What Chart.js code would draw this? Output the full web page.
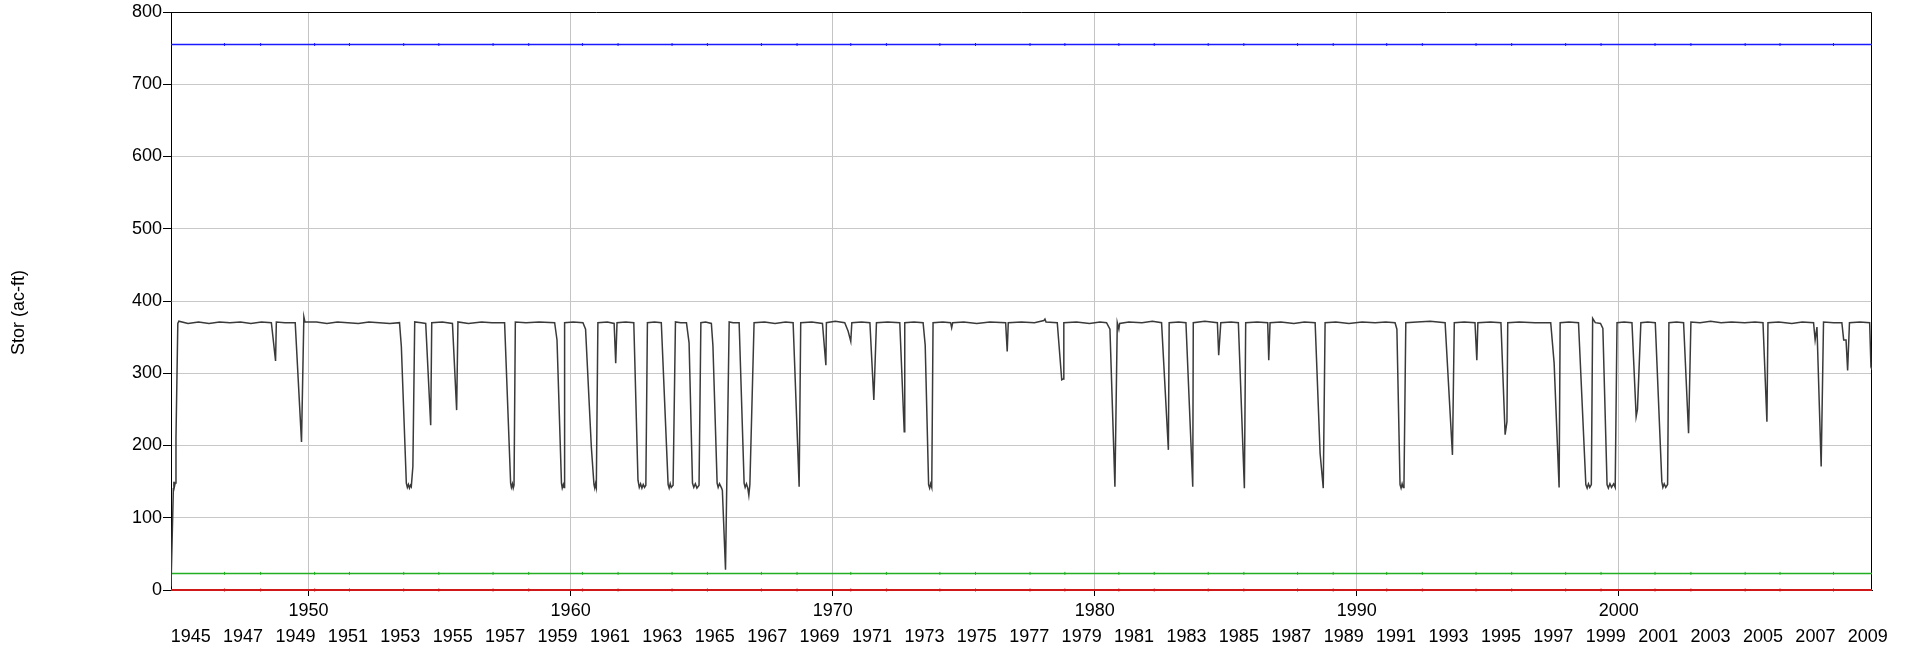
<!DOCTYPE html>
<html>
<head>
<meta charset="utf-8">
<title>Stor (ac-ft)</title>
<script src="https://cdn.jsdelivr.net/npm/chart.js@4.4.1/dist/chart.umd.min.js"></script>
<style>
    html, body { margin: 0; padding: 0; background: #fff; }
    #wrap { position: relative; width: 1912px; height: 647px; }
</style>
</head>
<body>
<div id="wrap"><canvas id="chart"></canvas></div>
<script>
// Storage trace (decimal year, ac-ft)
const storYear = [
    1944.75, 1944.84, 1944.86, 1944.88, 1944.91, 1944.94, 1945.01, 1945.05,
    1945.4, 1945.8, 1946.2, 1946.6, 1947.0, 1947.4, 1947.8, 1948.2,
    1948.58, 1948.74, 1948.77, 1949.1, 1949.49, 1949.73, 1949.82, 1949.86,
    1950.3, 1950.7, 1951.1, 1951.5, 1951.9, 1952.3, 1952.7, 1953.1,
    1953.47, 1953.54, 1953.73, 1953.77, 1953.81, 1953.85, 1953.89, 1953.92, 1953.98, 1954.05,
    1954.3, 1954.47, 1954.66, 1954.70, 1955.1, 1955.49, 1955.65, 1955.70,
    1956.1, 1956.6, 1957.0,
    1957.48, 1957.71, 1957.74, 1957.78, 1957.81, 1957.84, 1957.89, 1958.3, 1958.8,
    1959.39, 1959.48, 1959.65, 1959.68, 1959.72, 1959.75, 1959.77, 1960.1,
    1960.47, 1960.57, 1960.79, 1960.89, 1960.92, 1960.95, 1960.98, 1961.04, 1961.4,
    1961.66, 1961.72, 1961.77, 1962.1,
    1962.41, 1962.57, 1962.62, 1962.67, 1962.72, 1962.77, 1962.82, 1962.87, 1962.93, 1963.2,
    1963.46, 1963.72, 1963.76, 1963.8, 1963.84, 1963.91, 1964.0, 1964.2,
    1964.42, 1964.52, 1964.65, 1964.7, 1964.76, 1964.82, 1964.9, 1964.97, 1965.15,
    1965.37, 1965.43, 1965.59, 1965.63, 1965.68, 1965.76, 1965.79, 1965.91, 1966.05, 1966.2,
    1966.43, 1966.62, 1966.66, 1966.71, 1966.76, 1966.8, 1966.84, 1967.0,
    1967.4, 1967.8, 1968.2, 1968.49, 1968.72, 1968.78, 1969.2,
    1969.61, 1969.74, 1969.76, 1970.1, 1970.46, 1970.59, 1970.69, 1970.73, 1971.1,
    1971.42, 1971.57, 1971.67, 1972.1, 1972.56, 1972.73, 1972.75, 1973.1,
    1973.45, 1973.53, 1973.66, 1973.7, 1973.74, 1973.78, 1973.83, 1974.2,
    1974.5, 1974.54, 1974.58, 1975.0, 1975.5, 1976.0,
    1976.6, 1976.66, 1976.7, 1977.2, 1977.7, 1978.06, 1978.1, 1978.14,
    1978.57, 1978.74, 1978.79, 1978.82, 1979.3, 1979.8, 1980.2,
    1980.45, 1980.58, 1980.77, 1980.86, 1980.92, 1980.95, 1981.3, 1981.8, 1982.2,
    1982.55, 1982.81, 1982.84, 1983.2, 1983.48, 1983.74, 1983.76, 1984.2,
    1984.68, 1984.73, 1984.81, 1985.2, 1985.48, 1985.71, 1985.76, 1986.2,
    1986.6, 1986.64, 1986.69, 1987.1, 1987.6, 1988.0,
    1988.41, 1988.6, 1988.72, 1988.79, 1989.2, 1989.7, 1990.2, 1990.7, 1991.1,
    1991.46, 1991.53, 1991.65, 1991.69, 1991.73, 1991.77, 1991.8, 1991.87, 1992.3, 1992.8,
    1993.37, 1993.65, 1993.72, 1994.1, 1994.51, 1994.58, 1994.62, 1995.1,
    1995.5, 1995.66, 1995.73, 1995.76, 1996.2, 1996.8,
    1997.4, 1997.53, 1997.72, 1997.76, 1998.1,
    1998.46, 1998.74, 1998.79, 1998.84, 1998.89, 1998.95, 1999.0, 1999.1, 1999.3, 1999.39,
    1999.55, 1999.6, 1999.66, 1999.72, 1999.8, 1999.86, 1999.93, 2000.2,
    2000.5, 2000.66, 2000.71, 2000.84, 2001.1,
    2001.39, 2001.64, 2001.68, 2001.73, 2001.79, 2001.86, 2001.91, 2002.2,
    2002.47, 2002.66, 2002.75, 2003.1, 2003.5, 2003.9, 2004.3, 2004.8, 2005.2,
    2005.5, 2005.65, 2005.69, 2006.1, 2006.6, 2007.0,
    2007.43, 2007.49, 2007.56, 2007.72, 2007.81, 2008.2,
    2008.51, 2008.58, 2008.67, 2008.73, 2008.8, 2009.2, 2009.57, 2009.62, 2009.66
];
const storAcFt = [
    5, 140, 150, 143, 148, 210, 369, 372,
    369, 371, 369, 371, 370, 371, 369, 371,
    370, 317, 371, 370, 370, 205, 378, 371,
    371, 369, 371, 370, 369, 371, 370, 369,
    370, 337, 148, 142, 146, 141, 145, 143, 171, 371,
    370, 369, 228, 370, 371, 369, 249, 371,
    369, 371, 370,
    370, 148, 142, 147, 141, 145, 371, 370, 371,
    370, 346, 148, 141, 146, 142, 370, 371,
    370, 361, 198, 146, 141, 147, 142, 370, 371,
    369, 314, 370, 371,
    370, 152, 142, 147, 141, 146, 142, 145, 370, 371,
    370, 146, 141, 147, 142, 145, 371, 370,
    370, 342, 148, 142, 147, 141, 145, 370, 371,
    369, 338, 148, 142, 147, 141, 138, 28, 371, 370,
    370, 148, 142, 147, 141, 131, 146, 370,
    371, 369, 371, 370, 143, 370, 371,
    369, 311, 370, 372, 370, 358, 344, 370, 371,
    370, 263, 370, 371, 370, 219, 370, 371,
    370, 339, 146, 141, 147, 142, 370, 371,
    370, 363, 370, 371, 369, 371,
    370, 330, 370, 371, 370, 373, 375, 371,
    370, 291, 292, 370, 371, 369, 371,
    370, 361, 143, 370, 361, 369, 371, 370, 372,
    370, 194, 370, 371, 370, 143, 370, 372,
    370, 325, 370, 371, 370, 141, 370, 371,
    370, 318, 370, 371, 369, 371,
    370, 189, 141, 370, 371, 369, 371, 370, 371,
    370, 361, 146, 141, 147, 142, 145, 370, 371, 372,
    370, 187, 370, 371, 370, 318, 370, 371,
    370, 215, 233, 370, 371, 370,
    370, 314, 142, 370, 371,
    370, 146, 141, 147, 142, 146, 376, 370, 369, 362,
    146, 141, 147, 142, 147, 142, 370, 371,
    370, 240, 250, 370, 371,
    370, 150, 142, 147, 142, 146, 370, 371,
    370, 217, 371, 370, 372, 370, 371, 370, 371,
    370, 233, 370, 371, 369, 371,
    370, 346, 364, 171, 371, 370,
    370, 346, 346, 304, 370, 371, 370, 309, 305
];

// Constant reference levels (ac-ft) and the years where their small markers sit
const capacityLevel = 755;
const minimumLevel = 23;
const zeroLevel = 0;
const markerYears = [
    1946.79, 1948.17, 1950.23, 1951.56, 1953.63, 1954.97, 1957.04, 1958.40,
    1960.45, 1961.81, 1963.87, 1965.22, 1967.28, 1968.64, 1970.69, 1972.05,
    1974.09, 1975.45, 1977.53, 1978.86, 1980.92, 1982.27, 1984.33, 1985.69,
    1987.74, 1989.10, 1991.14, 1992.50, 1994.55, 1995.91, 1997.97, 1999.32,
    2001.38, 2002.75, 2004.82, 2006.15, 2008.19
];

// Axis range and tick labels
const xStart = 1944.75;
const xEnd = 2009.66;
const decadeTicks = [1950, 1960, 1970, 1980, 1990, 2000];
const yearTicks = [
    1945, 1947, 1949, 1951, 1953, 1955, 1957, 1959, 1961, 1963, 1965,
    1967, 1969, 1971, 1973, 1975, 1977, 1979, 1981, 1983, 1985, 1987,
    1989, 1991, 1993, 1995, 1997, 1999, 2001, 2003, 2005, 2007, 2009
];
const yTitle = 'Stor (ac-ft)';

const FONT = 'Liberation Sans, Arial, Helvetica, sans-serif';

function levelSeries(level) {
    const xs = [xStart, ...markerYears, xEnd];
    return xs.map((x) => ({ x, y: level }));
}

function levelDataset(label, level, color, width) {
    const last = markerYears.length + 1;
    return {
        label,
        data: levelSeries(level),
        borderColor: color,
        backgroundColor: color,
        borderWidth: width,
        pointStyle: 'line',
        rotation: 90,
        pointRadius: (ctx) => (ctx.dataIndex === 0 || ctx.dataIndex === last ? 0 : 1.5),
        pointBorderWidth: 1,
        pointBorderColor: color,
        tension: 0,
        clip: 4
    };
}

// frame on top and right side of the plot + rotated axis title
const framePlugin = {
    id: 'frame',
    beforeDatasetsDraw(chart) {
        const { ctx, chartArea: a } = chart;
        ctx.save();
        ctx.strokeStyle = '#000';
        ctx.lineWidth = 1;
        ctx.beginPath();
        ctx.moveTo(Math.round(a.left) + 0.5, Math.round(a.top) + 0.5);
        ctx.lineTo(Math.round(a.right) - 0.5, Math.round(a.top) + 0.5);
        ctx.lineTo(Math.round(a.right) - 0.5, Math.round(a.bottom));
        ctx.stroke();
        ctx.restore();
    },
    afterDraw(chart) {
        const { ctx } = chart;
        ctx.save();
        ctx.translate(19.5, 312.5);
        ctx.rotate(-Math.PI / 2);
        ctx.font = `18px ${FONT}`;
        ctx.fillStyle = '#000';
        ctx.textAlign = 'center';
        ctx.textBaseline = 'middle';
        ctx.fillText(yTitle, 0, 0);
        ctx.restore();
    }
};

const tickFont = { family: FONT, size: 18 };

new Chart(document.getElementById('chart'), {
    type: 'line',
    data: {
        datasets: [
            {
                label: 'Stor',
                data: storYear.map((x, i) => ({ x, y: storAcFt[i] })),
                borderColor: '#3a3a3a',
                borderWidth: 1.5,
                pointRadius: 0,
                tension: 0
            },
            levelDataset('Capacity', capacityLevel, '#1a1aff', 1.3),
            levelDataset('Minimum', minimumLevel, '#22b022', 1.5),
            levelDataset('Zero', zeroLevel, '#d01818', 2)
        ]
    },
    options: {
        responsive: true,
        maintainAspectRatio: false,
        animation: false,
        events: [],
        layout: { padding: { top: 12, right: 40, bottom: 0, left: 0 } },
        plugins: {
            legend: { display: false },
            tooltip: { enabled: false }
        },
        scales: {
            x: {
                type: 'linear',
                position: 'bottom',
                weight: 0,
                min: xStart,
                max: xEnd,
                afterBuildTicks: (s) => { s.ticks = decadeTicks.map((v) => ({ value: v })); },
                afterFit: (s) => { s.height = 30; },
                ticks: {
                    color: '#000',
                    font: tickFont,
                    padding: 4,
                    autoSkip: false,
                    maxRotation: 0,
                    callback: (v) => String(v)
                },
                grid: { color: '#c4c4c4', lineWidth: 1, tickColor: '#000', tickLength: 6 },
                border: { display: true, color: '#000', width: 1 }
            },
            x2: {
                type: 'linear',
                position: 'bottom',
                weight: 1,
                min: xStart,
                max: xEnd,
                afterBuildTicks: (s) => { s.ticks = yearTicks.map((v) => ({ value: v + 0.5 })); },
                afterFit: (s) => { s.height = 27; },
                ticks: {
                    color: '#000',
                    font: tickFont,
                    padding: 6,
                    autoSkip: false,
                    maxRotation: 0,
                    callback: (v, i) => String(yearTicks[i])
                },
                grid: { display: false, drawTicks: false },
                border: { display: false }
            },
            y: {
                min: 0,
                max: 800,
                afterFit: (s) => { s.width = 171; },
                ticks: {
                    stepSize: 100,
                    color: '#000',
                    font: tickFont,
                    padding: 1,
                    callback: (v) => String(v)
                },
                grid: { color: '#c8c8c8', lineWidth: 1, tickColor: '#000', tickLength: 8 },
                border: { display: true, color: '#000', width: 1 }
            }
        }
    },
    plugins: [framePlugin]
});
</script>
</body>
</html>
